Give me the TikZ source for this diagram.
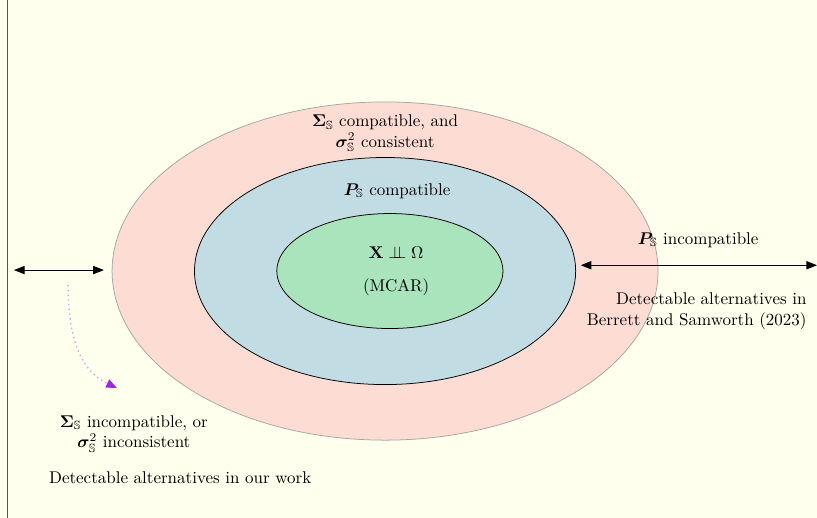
\documentclass[tikz,border=0pt]{standalone}
\usepackage{amsmath,amssymb,bm}
\usetikzlibrary{arrows.meta,positioning,shapes.geometric}
\definecolor{paper}{HTML}{FEFFEC}
\definecolor{ringout}{HTML}{FDDDD3}
\definecolor{ringmid}{HTML}{C2DCE3}
\definecolor{ringin}{HTML}{A9E4BC}
\definecolor{frameline}{HTML}{555555}
\definecolor{hintcol}{HTML}{A020F0}
\newcommand{\indep}{\perp\!\!\!\perp}

\begin{document}
\begin{tikzpicture}[
  ring/.style={ellipse,inner sep=0pt,draw=black,line width=0.45pt},
  label/.style={align=center,font=\normalsize,inner sep=1pt},
  dblarrow/.style={{Triangle[length=2.2mm,width=1.7mm]}-{Triangle[length=2.2mm,width=1.7mm]},line width=0.5pt},
  hint/.style={dotted,thick,draw=hintcol!45,-{Triangle[length=2.2mm,width=1.8mm,color=hintcol]}}
]
\path[use as bounding box,fill=paper] (-7.97,-5.11) rectangle (8.94,5.61);
\draw[frameline,line width=0.6pt] (-7.82,-5.11) -- (-7.82,5.61);
\node[ring,draw=gray!70,fill=ringout,minimum width=11.3cm,minimum height=7.0cm] (outer) at (0,0) {};
\node[ring,fill=ringmid,minimum width=7.89cm,minimum height=4.7cm] (middle) at (0,0) {};
\node[ring,fill=ringin,minimum width=4.68cm,minimum height=2.38cm] (inner) at (0.1,0) {};
\node[label] (sigcomp) at (0,2.85) {$\bm{\Sigma}_{\mathbb{S}}$ compatible, and\\$\bm{\sigma}^2_{\mathbb{S}}$ consistent};
\node[label] (pcomp) at (0.25,1.66) {$\bm{P}_{\mathbb{S}}$ compatible};
\node[label] (indep) at (0.23,0.39) {$\mathbf{X}\indep\Omega$};
\node[label] (mcar) at (0.23,-0.33) {(MCAR)};
\coordinate (rstart) at (4.05,0.12);
\coordinate (rend) at (8.94,0.12);
\draw[dblarrow] (rstart) -- (rend);
\node[label] (pincomp) at (6.48,0.64) {$\bm{P}_{\mathbb{S}}$ incompatible};
\node[label,align=right] (bs) at (6.45,-0.83) {Detectable alternatives in\\Berrett and Samworth (2023)};
\coordinate (lstart) at (-7.68,0.02);
\coordinate (lend) at (-5.82,0.02);
\draw[dblarrow] (lstart) -- (lend);
\coordinate (hstart) at (-6.56,-0.29);
\coordinate (hend) at (-5.55,-2.42);
\draw[hint] (hstart) to[out=-90,in=155] (hend);
\node[label] (sigincomp) at (-5.2,-3.37) {$\bm{\Sigma}_{\mathbb{S}}$ incompatible, or\\$\bm{\sigma}^2_{\mathbb{S}}$ inconsistent};
\node[label] (ours) at (-4.24,-4.28) {Detectable alternatives in our work};
\end{tikzpicture}
\end{document}
